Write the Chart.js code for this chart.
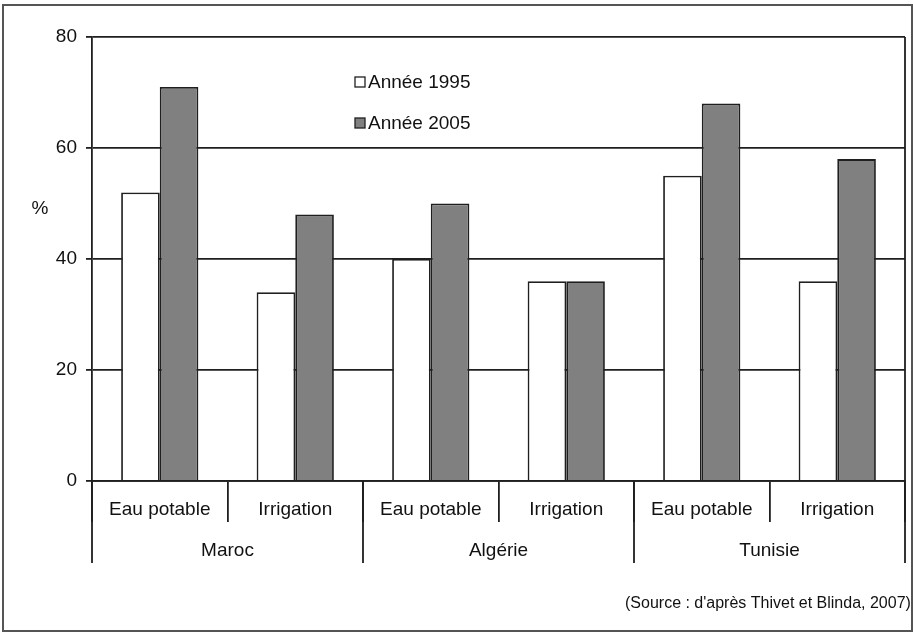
<!DOCTYPE html>
<html>
<head>
<meta charset="utf-8">
<script src="https://cdn.jsdelivr.net/npm/chart.js@4.4.0/dist/chart.umd.min.js"></script>
<style>
  html, body { margin: 0; padding: 0; background: #fff; }
  #wrap { width: 913px; height: 632px; position: relative; }
</style>
</head>
<body>
<div id="wrap"><canvas id="c" width="913" height="632"></canvas></div>
<script>
// ---- data ----
const subCategories = ['Eau potable', 'Irrigation', 'Eau potable', 'Irrigation', 'Eau potable', 'Irrigation'];
const countries = ['Maroc', 'Algérie', 'Tunisie'];
const seriesLabels = ['Année 1995', 'Année 2005'];
const values1995 = [52, 34, 40, 36, 55, 36];
const values2005 = [71, 48, 50, 36, 68, 58];
const yTicks = [0, 20, 40, 60, 80];
const yUnit = '%';
const sourceText = "(Source : d'après Thivet et Blinda, 2007)";

const FONT = "'Liberation Sans', Arial, Helvetica, sans-serif";
const INK = '#1f1f1f';
const TEXT = '#111111';

const decorPlugin = {
  id: 'decor',
  afterDraw(chart) {
    const ctx = chart.ctx;
    const x = chart.scales.x;
    const y = chart.scales.y;
    const area = chart.chartArea;
    const step = x.getPixelForValue(1) - x.getPixelForValue(0);
    ctx.save();
    // right border of plot area
    ctx.strokeStyle = INK;
    ctx.lineWidth = 1.8;
    ctx.beginPath();
    ctx.moveTo(area.right, area.top);
    ctx.lineTo(area.right, area.bottom);
    ctx.stroke();
    // group separators and country labels
    const base = y.getPixelForValue(0);
    for (let g = 0; g <= countries.length; g++) {
      const px = x.getPixelForValue(g * 2) - step / 2;
      ctx.beginPath();
      ctx.moveTo(px, base);
      ctx.lineTo(px, base + 82);
      ctx.stroke();
    }
    ctx.fillStyle = TEXT;
    ctx.font = '19px ' + FONT;
    ctx.textAlign = 'center';
    ctx.textBaseline = 'middle';
    countries.forEach((c, g) => {
      const cx = (x.getPixelForValue(g * 2) + x.getPixelForValue(g * 2 + 1)) / 2;
      ctx.fillText(c, cx, base + 70);
    });
    // unit label
    ctx.fillText(yUnit, 40, 209);
    // legend
    ctx.textAlign = 'left';
    chart.data.datasets.forEach((ds, i) => {
      const ly = 82 + i * 41;
      ctx.fillStyle = ds.backgroundColor;
      ctx.fillRect(355, ly - 5, 10, 10);
      ctx.strokeStyle = INK;
      ctx.lineWidth = 1.3;
      ctx.strokeRect(355, ly - 5, 10, 10);
      ctx.fillStyle = TEXT;
      ctx.fillText(ds.label, 368, ly + 1);
    });
    // source
    ctx.font = '16px ' + FONT;
    ctx.fillText(sourceText, 625, 604);
    // outer frame
    ctx.strokeStyle = '#555';
    ctx.lineWidth = 2;
    ctx.strokeRect(3, 5, 909, 626);
    ctx.restore();
  }
};

new Chart(document.getElementById('c'), {
  type: 'bar',
  data: {
    labels: subCategories,
    datasets: [
      { label: seriesLabels[0], data: values1995, backgroundColor: '#ffffff', borderColor: INK, borderWidth: 1.8 },
      { label: seriesLabels[1], data: values2005, backgroundColor: '#808080', borderColor: INK, borderWidth: 1.8 }
    ]
  },
  options: {
    responsive: false,
    animation: false,
    devicePixelRatio: 1,
    categoryPercentage: 0.57,
    barPercentage: 1.0,
    layout: { padding: { left: 0, top: 37, right: 8, bottom: 0 } },
    plugins: { legend: { display: false }, tooltip: { enabled: false } },
    scales: {
      x: {
        afterFit(s) { s.height = 151; },
        grid: { offset: true, drawOnChartArea: false, drawTicks: true, tickLength: 41, color: INK, lineWidth: 1.8 },
        border: { display: true, color: INK, width: 1.8 },
        ticks: { autoSkip: false, maxRotation: 0, padding: -24, color: TEXT, font: { family: FONT, size: 19 } }
      },
      y: {
        min: 0, max: 80,
        afterFit(s) { s.width = 92; },
        afterBuildTicks(s) { s.ticks = yTicks.map(v => ({ value: v })); },
        grid: { color: INK, lineWidth: 1.8, drawTicks: true, tickLength: 6 },
        border: { display: true, color: INK, width: 1.8 },
        ticks: { padding: 9, color: TEXT, font: { family: FONT, size: 19 } }
      }
    }
  },
  plugins: [decorPlugin]
});
</script>
</body>
</html>
